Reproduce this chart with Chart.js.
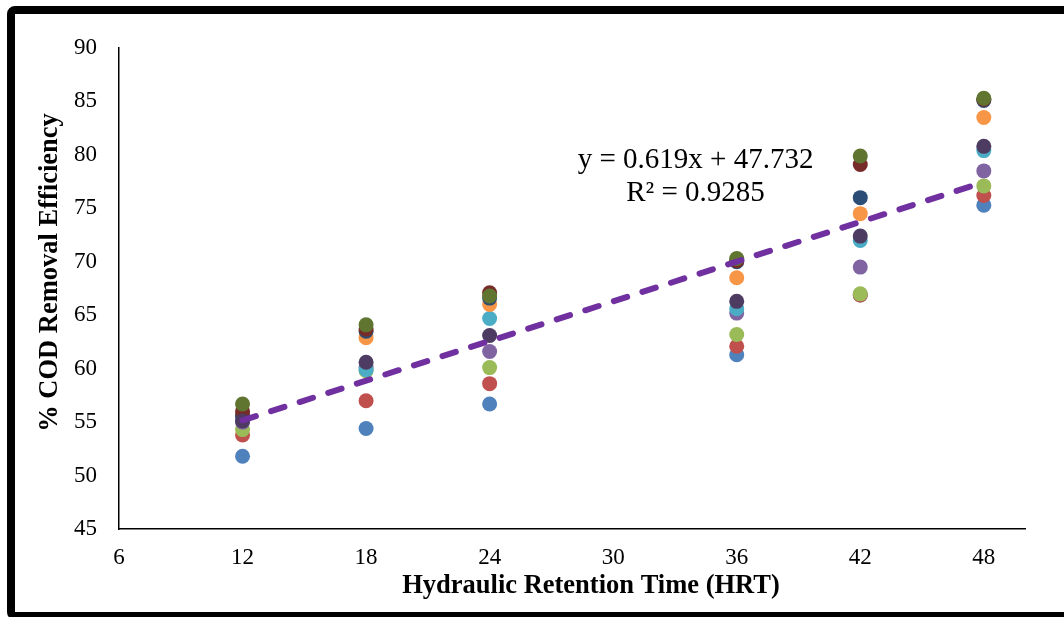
<!DOCTYPE html>
<html>
<head>
<meta charset="utf-8">
<script src="https://cdn.jsdelivr.net/npm/chart.js@4.4.1/dist/chart.umd.min.js"></script>
<style>
  html, body { margin: 0; padding: 0; background: #fff; overflow: hidden; }
  #wrap { position: relative; width: 1064px; height: 617px; overflow: hidden; }
  #frame { position: absolute; left: 7px; top: 6px; width: 1100px; height: 598px;
           border: 8px solid #000; border-radius: 8px; }
  #chart { position: absolute; left: 0; top: 0; }
</style>
</head>
<body>
<div id="wrap">
  <div id="frame"></div>
  <canvas id="chart" width="1064" height="617"></canvas>
</div>
<script>
// HRT (hours) and COD removal (%) for each run
const hrt = [12, 18, 24, 36, 42, 48];
const run1 = [51.8, 54.4, 56.7, 61.3, 66.9, 75.3];
const run2 = [53.8, 57.0, 58.6, 62.1, 66.9, 76.2];
const run3 = [54.3, 59.8, 60.1, 63.2, 67.0, 77.1];
const run4 = [55.0, 60.1, 61.6, 65.2, 69.5, 78.5];
const run5 = [55.3, 59.9, 64.7, 65.6, 72.0, 80.4];
const run6 = [55.6, 62.9, 66.0, 68.5, 74.5, 83.5];
const run7 = [55.6, 63.5, 66.6, 70.0, 76.0, 85.1];
const run8 = [56.0, 63.7, 67.1, 70.1, 79.1, 85.2];
const run9 = [56.7, 64.1, 66.8, 70.3, 79.9, 85.3];
const run10 = [55.1, 60.6, 63.1, 66.3, 72.4, 80.8];
const runs = [run1, run2, run3, run4, run5, run6, run7, run8, run9, run10];
const runColors = ['#4F81BD', '#C0504D', '#9BBB59', '#8064A2', '#4BACC6',
                   '#F79646', '#2C4D75', '#772C2A', '#5F7530', '#4D3B62'];

const xTicks = [6, 12, 18, 24, 30, 36, 42, 48];
const yTicks = [45, 50, 55, 60, 65, 70, 75, 80, 85, 90];

// linear trendline reported on the chart
const slope = 0.619;
const intercept = 47.732;
const rSquared = 0.9285;
const trendRange = [12, 48];

const serif = '"Liberation Serif", "Times New Roman", serif';

const datasets = runs.map((run, i) => ({
  type: 'scatter',
  data: hrt.map((x, j) => ({ x: x, y: run[j] })),
  backgroundColor: runColors[i],
  borderWidth: 0,
  pointRadius: 7.5,
  order: runs.length - i
}));

datasets.push({
  type: 'line',
  data: trendRange.map(x => ({ x: x, y: slope * x + intercept })),
  borderColor: '#7030A0',
  borderWidth: 6,
  borderDash: [14, 16],
  borderCapStyle: 'round',
  pointRadius: 0,
  showLine: true,
  fill: false,
  order: 0
});

// axis titles and the trendline equation
const annotations = {
  id: 'annotations',
  afterDraw(chart) {
    const { ctx, chartArea, scales } = chart;
    ctx.save();
    ctx.fillStyle = '#000';
    ctx.textAlign = 'center';
    ctx.textBaseline = 'middle';

    ctx.font = 'bold 26.5px ' + serif;
    ctx.fillText('Hydraulic Retention Time (HRT)', (chartArea.left + chartArea.right) / 2 + 19, 586);

    ctx.save();
    ctx.translate(50, (chartArea.top + chartArea.bottom) / 2 - 16);
    ctx.rotate(-Math.PI / 2);
    ctx.fillText('% COD Removal Efficiency', 0, 0);
    ctx.restore();

    ctx.font = '29px ' + serif;
    const ex = scales.x.getPixelForValue(34);
    ctx.fillText('y = ' + slope + 'x + ' + intercept, ex, scales.y.getPixelForValue(79.5));
    ctx.fillText('R² = ' + rSquared, ex, scales.y.getPixelForValue(76.4));
    ctx.restore();
  }
};

new Chart(document.getElementById('chart'), {
  type: 'scatter',
  data: { datasets: datasets },
  options: {
    responsive: false,
    animation: false,
    devicePixelRatio: 1,
    layout: { padding: { top: 48, right: 39, left: 0, bottom: 0 } },
    plugins: {
      legend: { display: false },
      tooltip: { enabled: false }
    },
    scales: {
      x: {
        type: 'linear',
        min: 6,
        max: 50,
        grid: { display: false, drawTicks: false },
        border: { display: true, color: '#000', width: 1.5 },
        ticks: { color: '#000', padding: 15, font: { family: serif, size: 23 } },
        afterBuildTicks(scale) { scale.ticks = xTicks.map(v => ({ value: v })); },
        afterFit(scale) { scale.height = 88; }
      },
      y: {
        type: 'linear',
        min: 45,
        max: 90,
        grid: { display: false, drawTicks: false },
        border: { display: true, color: '#000', width: 1.5 },
        ticks: { color: '#000', padding: 22, font: { family: serif, size: 23 } },
        afterBuildTicks(scale) { scale.ticks = yTicks.map(v => ({ value: v })); },
        afterFit(scale) { scale.width = 119; }
      }
    }
  },
  plugins: [annotations]
});
</script>
</body>
</html>
